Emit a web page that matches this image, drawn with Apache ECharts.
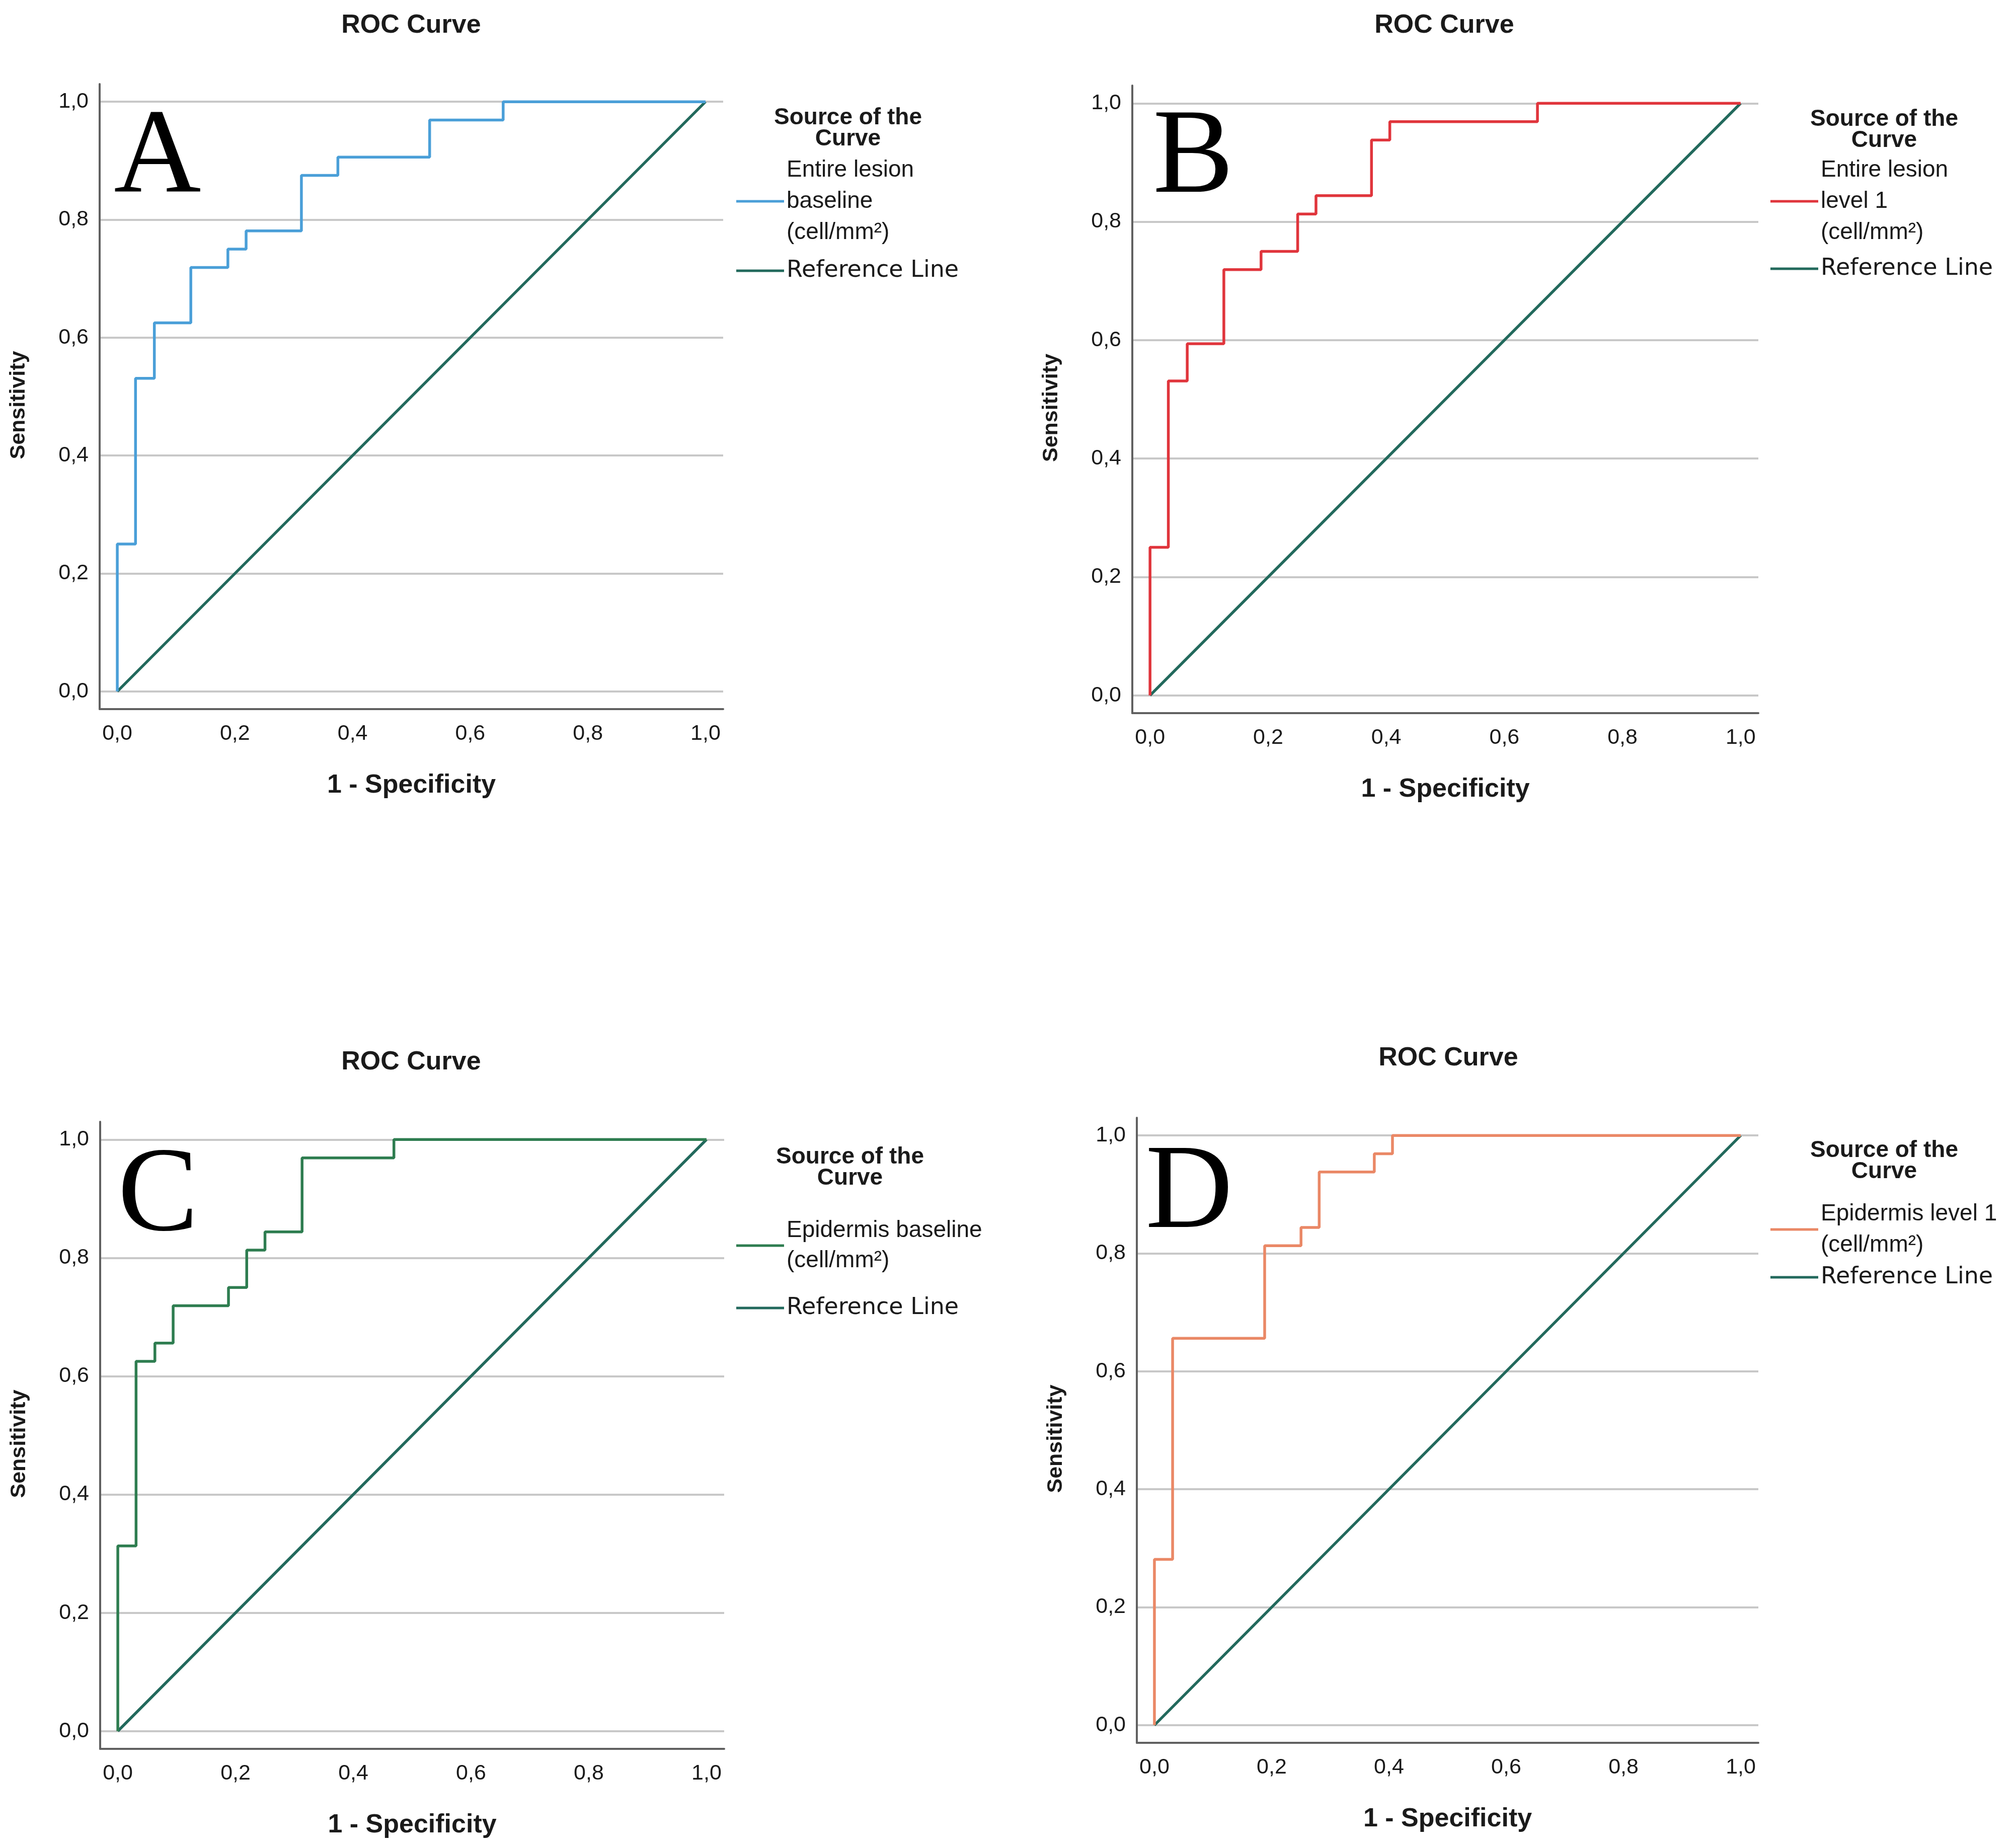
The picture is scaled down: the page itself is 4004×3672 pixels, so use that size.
<!DOCTYPE html>
<html><head><meta charset="utf-8">
<script src="https://cdn.jsdelivr.net/npm/echarts@6/dist/echarts.min.js"></script>
<style>html,body{margin:0;padding:0;background:#fff}#c{width:4004px;height:3672px}</style>
</head><body><div id="c"></div>
<script>
// ---- data ----
const tickValues = [0, 0.2, 0.4, 0.6, 0.8, 1.0];
const panelLetters = ['A', 'B', 'C', 'D'];
const chartTitle = 'ROC Curve';
const xAxisName = '1 - Specificity';
const yAxisName = 'Sensitivity';
const legendTitle = 'Source of the\nCurve';
const refName = 'Reference Line';
const curveNames = [
  'Entire lesion\nbaseline\n(cell/mm²)',
  'Entire lesion\nlevel 1\n(cell/mm²)',
  'Epidermis baseline\n(cell/mm²)',
  'Epidermis level 1\n(cell/mm²)'
];
const refX = [0, 1];
const refY = [0, 1];
const fprA = [0, 0, 0.031, 0.031, 0.063, 0.063, 0.125, 0.125, 0.188, 0.188, 0.219, 0.219, 0.313, 0.313, 0.375, 0.375, 0.531, 0.531, 0.656, 0.656, 1.0];
const tprA = [0, 0.25, 0.25, 0.531, 0.531, 0.625, 0.625, 0.719, 0.719, 0.75, 0.75, 0.781, 0.781, 0.875, 0.875, 0.906, 0.906, 0.969, 0.969, 1.0, 1.0];
const fprB = [0, 0, 0.031, 0.031, 0.063, 0.063, 0.125, 0.125, 0.188, 0.188, 0.25, 0.25, 0.281, 0.281, 0.375, 0.375, 0.406, 0.406, 0.656, 0.656, 1.0];
const tprB = [0, 0.25, 0.25, 0.531, 0.531, 0.594, 0.594, 0.719, 0.719, 0.75, 0.75, 0.813, 0.813, 0.844, 0.844, 0.938, 0.938, 0.969, 0.969, 1.0, 1.0];
const fprC = [0, 0, 0.031, 0.031, 0.063, 0.063, 0.094, 0.094, 0.188, 0.188, 0.219, 0.219, 0.25, 0.25, 0.313, 0.313, 0.469, 0.469, 1.0];
const tprC = [0, 0.313, 0.313, 0.625, 0.625, 0.656, 0.656, 0.719, 0.719, 0.75, 0.75, 0.813, 0.813, 0.844, 0.844, 0.969, 0.969, 1.0, 1.0];
const fprD = [0, 0, 0.031, 0.031, 0.188, 0.188, 0.25, 0.25, 0.281, 0.281, 0.375, 0.375, 0.406, 0.406, 1.0];
const tprD = [0, 0.281, 0.281, 0.656, 0.656, 0.813, 0.813, 0.844, 0.844, 0.938, 0.938, 0.969, 0.969, 1.0, 1.0];

// ---- layout / style ----
const curveFpr = [fprA, fprB, fprC, fprD];
const curveTpr = [tprA, tprB, tprC, tprD];
const curveColors = ['#4a9fd8', '#e0353c', '#2e7d50', '#ea8866'];
const refColor = '#22695c';
const SANS = '"Liberation Sans", Arial, sans-serif';
const layout = [
  { grid: [198, 167, 1239, 1242], title: [817, 51], letter: [313, 318], lt: [1685, 255], leg: [1463, 307, 62], ref: 507 },
  { grid: [2250, 170, 1244, 1247], title: [2870, 51], letter: [2371, 318], lt: [3744, 258], leg: [3518, 307, 62], ref: 503 },
  { grid: [199, 2229, 1240, 1246], title: [817, 2111], letter: [314, 2381], lt: [1689, 2320], leg: [1463, 2415, 60], ref: 2568 },
  { grid: [2259, 2221, 1235, 1242], title: [2878, 2103], letter: [2363, 2375], lt: [3744, 2307], leg: [3518, 2381, 62], ref: 2507 }
];
const fmt = v => v.toFixed(1).replace('.', ',');
const zip = (xs, ys) => xs.map((x, i) => [x, ys[i]]);

const grids = [], xAxes = [], yAxes = [], series = [], legends = [], graphics = [];
layout.forEach((L, i) => {
  grids.push({ left: L.grid[0], top: L.grid[1], width: L.grid[2], height: L.grid[3], containLabel: false, outerBoundsMode: 'none' });
  const axisCommon = {
    type: 'value', gridIndex: i, min: -0.03, max: 1.03,
    axisLine: { show: true, onZero: false, lineStyle: { color: '#606060', width: 4 } },
    axisTick: { show: false, customValues: tickValues },
    axisLabel: { customValues: tickValues, formatter: fmt, fontSize: 43, color: '#1a1a1a', fontFamily: SANS },
    nameLocation: 'middle'
  };
  xAxes.push(Object.assign({}, axisCommon, {
    axisLabel: Object.assign({}, axisCommon.axisLabel, { margin: 28 }),
    splitLine: { show: false },
    name: xAxisName, nameGap: 126,
    nameTextStyle: { fontSize: 52, fontWeight: 'bold', color: '#1a1a1a', fontFamily: SANS }
  }));
  yAxes.push(Object.assign({}, axisCommon, {
    axisLabel: Object.assign({}, axisCommon.axisLabel, { margin: 22 }),
    splitLine: { show: true, lineStyle: { color: '#c8c8c8', width: 4 } },
    name: yAxisName, nameGap: 139,
    nameTextStyle: { fontSize: 43, fontWeight: 'bold', color: '#1a1a1a', fontFamily: SANS, padding: [0, 34, 0, 0] }
  }));
  series.push({
    type: 'line', name: refName, xAxisIndex: i, yAxisIndex: i, data: zip(refX, refY),
    symbol: 'none', showSymbol: false, lineStyle: { color: refColor, width: 5.5 }, itemStyle: { color: refColor },
    z: 2, animation: false, silent: true
  });
  series.push({
    type: 'line', name: curveNames[i], xAxisIndex: i, yAxisIndex: i, data: zip(curveFpr[i], curveTpr[i]),
    symbol: 'none', showSymbol: false, lineStyle: { color: curveColors[i], width: 5.5 }, itemStyle: { color: curveColors[i] },
    z: 3, animation: false, silent: true
  });
  const legCommon = {
    orient: 'vertical', padding: 0, itemWidth: 95, itemHeight: 5, icon: 'rect', selectedMode: false,
    left: L.leg[0]
  };
  legends.push(Object.assign({}, legCommon, {
    data: [curveNames[i]], top: L.leg[1],
    textStyle: { fontSize: 46, lineHeight: L.leg[2], color: '#1a1a1a', fontFamily: SANS }
  }));
  legends.push(Object.assign({}, legCommon, {
    data: [refName], top: L.ref,
    textStyle: { fontSize: 46, lineHeight: 62, color: '#1a1a1a', fontFamily: '"DejaVu Sans", sans-serif' }
  }));
  graphics.push({
    type: 'text', x: L.title[0], y: L.title[1], silent: true,
    style: { text: chartTitle, fill: '#1a1a1a', fontSize: 52, fontWeight: 'bold', fontFamily: SANS, align: 'center', verticalAlign: 'middle' }
  });
  graphics.push({
    type: 'text', x: L.lt[0], y: L.lt[1], silent: true,
    style: { text: legendTitle, fill: '#1a1a1a', fontSize: 46, lineHeight: 42, fontWeight: 'bold', fontFamily: SANS, align: 'center', verticalAlign: 'middle' }
  });
  graphics.push({
    type: 'text', x: L.letter[0], y: L.letter[1], silent: true, z: 10,
    style: { text: panelLetters[i], fill: '#000', fontSize: 240, fontFamily: '"Liberation Serif", "Times New Roman", serif', align: 'center', verticalAlign: 'middle' }
  });
});

const chart = echarts.init(document.getElementById('c'), null, { renderer: 'canvas' });
chart.setOption({
  backgroundColor: '#ffffff',
  animation: false,
  grid: grids, xAxis: xAxes, yAxis: yAxes, series: series, legend: legends,
  graphic: graphics
});
</script></body></html>
